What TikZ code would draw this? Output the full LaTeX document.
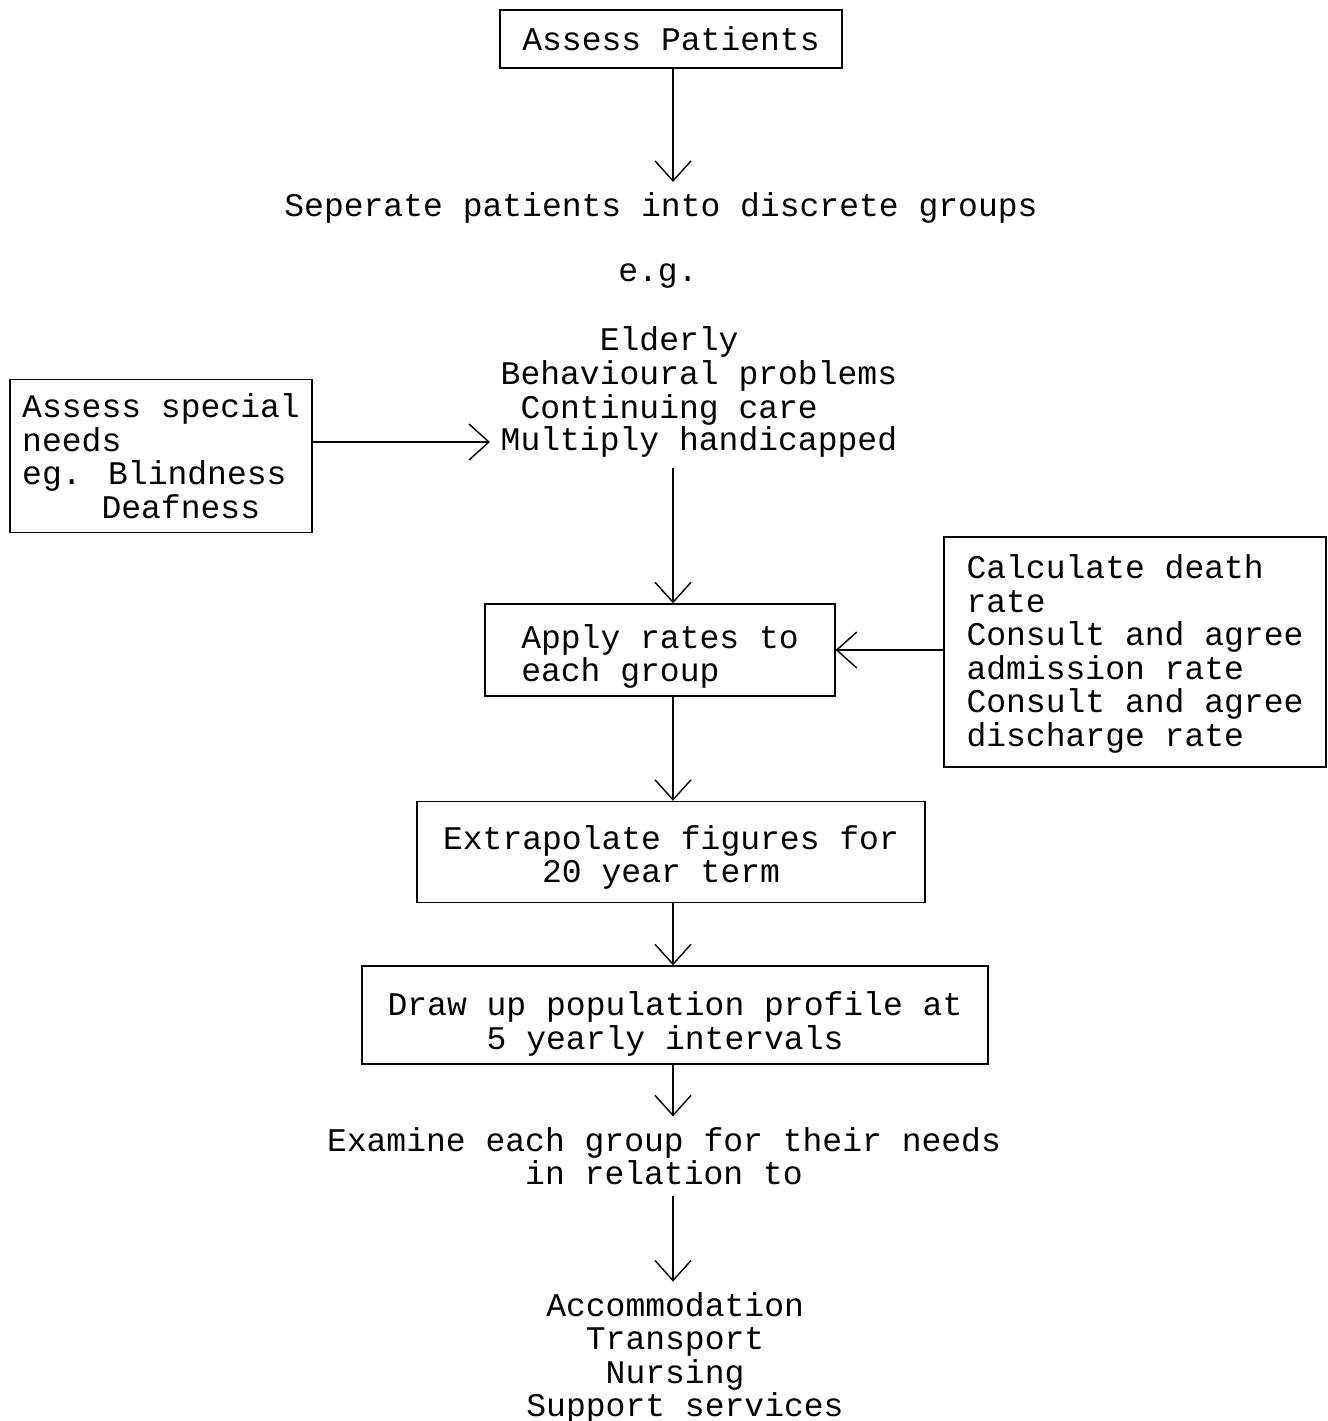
\documentclass[tikz,border=0pt]{standalone}
\usepackage{fontspec}
\newfontfamily\typer{Liberation Mono}
\usetikzlibrary{arrows.meta}
\newcommand{\tw}{\typer\fontsize{18.8pt}{19.1pt}\selectfont}
\newcommand{\topgap}[1]{\rule{0pt}{#1}}

\begin{document}
\begin{tikzpicture}[x=0.02cm,y=-0.02cm,line width=0.8pt,
    every node/.style={font=\tw,inner sep=0.2cm},
    box/.style={draw,align=left,inner ysep=0.12cm},
    flow/.style={-{Straight Barb[length=0.4cm,width=0.72cm]}}]
  \useasboundingbox (0,0) rectangle (1328,1421);
  %tete
  \node[box,minimum width=6.84cm,minimum height=1.16cm] (pat) at (671,39) {Assess Patients};
  \node (sep) at (661,208) {Seperate patients into discrete groups};
  \node (eg) at (658,276) {e.g.};
  %groupes
  \node[anchor=west] (grpA) at (490,342) {\hphantom{xxxxx}Elderly};
  \node[anchor=west] (grpB) at (490,376) {Behavioural problems};
  \node[anchor=west] (grpC) at (490,410) {\hphantom{x}Continuing care};
  \node[anchor=west] (grpD) at (490,442) {Multiply handicapped};
  \node[box,minimum width=6.04cm,minimum height=3.06cm] (needs) at (161,456)
    {Assess special\\needs\\eg. Blindness\\\hphantom{xxxx}Deafness};
  %taux
  \node[box,minimum width=7cm,minimum height=1.84cm] (apply) at (660,650)
    {\topgap{21pt}Apply rates to\\each group};
  \node[box,minimum width=7.64cm,minimum height=4.6cm] (rates) at (1135,652)
    {\topgap{16pt}Calculate death\\rate\\Consult and agree\\admission rate\\Consult and agree\\discharge rate};
  %projection
  \node[box,minimum width=10.16cm,minimum height=2.02cm] (extra) at (671,852)
    {\topgap{20pt}Extrapolate figures for\\\hphantom{xxxxx}20 year term};
  \node[box,minimum width=12.52cm,minimum height=1.96cm] (profile) at (675,1015)
    {\topgap{24pt}Draw up population profile at\\\hphantom{xxxxx}5 yearly intervals};
  %besoins
  \node[align=center] (exam) at (664,1156) {Examine each group for their needs\\in relation to};
  \node[align=left] (uses) at (685,1358)
    {\hphantom{x}Accommodation\\\hphantom{xxx}Transport\\\hphantom{xxxx}Nursing\\Support services};
  %fleches
  \coordinate (spine) at (673,0);
  \draw[flow] (pat.south -| spine) -- (sep.north -| spine);
  \draw[flow] (grpD.south -| spine) -- (apply.north -| spine);
  \draw[flow] (apply.south -| spine) -- (extra.north -| spine);
  \draw[flow] (extra.south -| spine) -- (profile.north -| spine);
  \draw[flow] (profile.south -| spine) -- (exam.north -| spine);
  \draw[flow] (exam.south -| spine) -- (uses.north -| spine);
  \draw[flow] (needs.east |- grpD.west) -- (grpD.west);
  \draw[flow] (rates.west |- apply.east) -- (apply.east);
\end{tikzpicture}
\end{document}
